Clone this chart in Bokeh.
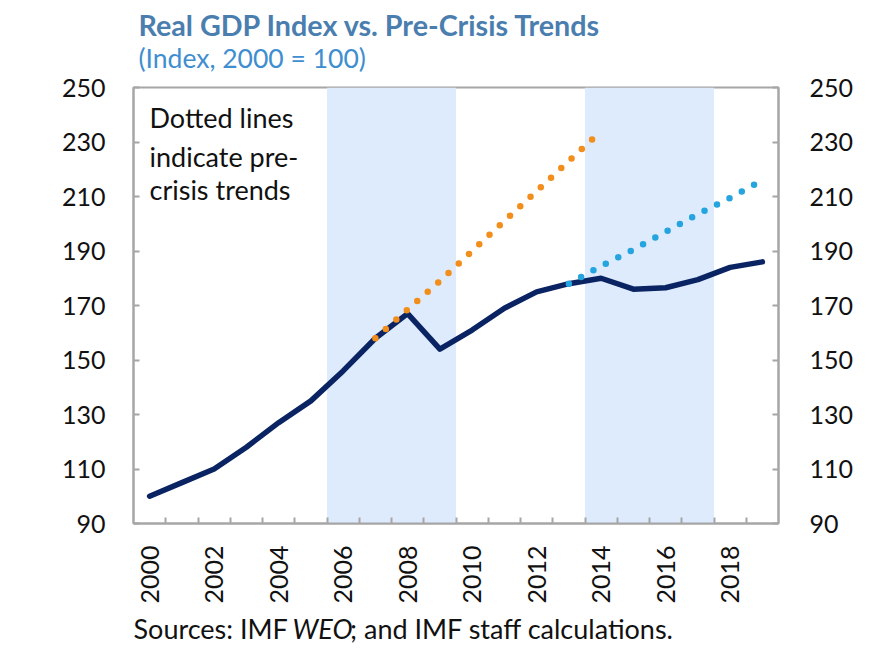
import math
from bokeh.plotting import figure
from bokeh.models import LinearAxis, FixedTicker, Range1d, BoxAnnotation, Label
from bokeh.layouts import column
from bokeh.embed import file_html
from bokeh.resources import INLINE

# ---- data ----
years = list(range(2000, 2020))
gdp_index = [100, 105, 110, 118, 127, 135, 146, 158, 167, 154,
             161, 169, 175, 178, 180, 176, 176.5, 179.5, 184, 186]

trend1_years = list(range(2007, 2015))
trend1_vals = [158, 168.5, 179, 190, 201, 212, 223, 234]

trend2_years = list(range(2013, 2020))
trend2_vals = [178, 184.5, 190.5, 197, 203.5, 209.5, 216]

shade_start = [2006, 2014]
shade_end = [2009, 2017]

y_ticks = [90, 110, 130, 150, 170, 190, 210, 230, 250]
x_label_years = list(range(2000, 2020, 2))

title_text = "Real GDP Index vs. Pre-Crisis Trends"
subtitle_text = "(Index, 2000 = 100)"
note_lines = ["Dotted lines", "indicate pre-", "crisis trends"]
source_parts = ["Sources: IMF ", "WEO", "; and IMF staff calculations."]

# ---- style ----
FONT = "Lato"
GRAY = "#A6A6A6"
NAVY = "#0A2463"
ORANGE = "#F28E1C"
LBLUE = "#25A4E0"
SHADE = "#DDEBFC"
TXT = "#111111"

W = 880
HEAD_H = 72
BL, BT, FW, FH, BB = 133, 15, 645, 436, 88
BR = W - BL - FW
MAIN_H = BT + FH + BB
FOOT_H = 44


def text_fig(h):
    f = figure(width=W, height=h, output_backend="svg", toolbar_location=None,
               x_range=Range1d(0, 1), y_range=Range1d(0, 1),
               x_axis_location=None, y_axis_location=None,
               min_border=0, min_border_left=0, min_border_right=0,
               min_border_top=0, min_border_bottom=0)
    f.xgrid.visible = False
    f.ygrid.visible = False
    f.outline_line_color = None
    return f


def lab(fig, text, sx, sy, size, color=TXT, style="normal"):
    fig.add_layout(Label(x=sx, y=sy, x_units="screen", y_units="screen",
                         text=text, text_font=FONT, text_font_size=size,
                         text_color=color, text_font_style=style,
                         text_baseline="alphabetic", text_align="left"))


# ---- header ----
head = text_fig(HEAD_H)
lab(head, title_text, 5, 48, "28.7px", "#4A7EAF", "bold")
lab(head, subtitle_text, 5, 15, "26.5px", "#3F8ECF")

# ---- main chart ----
p = figure(width=W, height=MAIN_H, output_backend="svg", toolbar_location=None,
           x_range=Range1d(years[0] - 0.5, years[-1] + 0.5),
           y_range=Range1d(y_ticks[0], y_ticks[-1]),
           min_border_left=BL, min_border_right=BR,
           min_border_top=BT, min_border_bottom=BB,
           y_axis_location=None, x_axis_location=None)
p.xgrid.visible = False
p.ygrid.visible = False
p.outline_line_color = GRAY
p.outline_line_width = 2

for s, e in zip(shade_start, shade_end):
    p.add_layout(BoxAnnotation(left=s - 0.5, right=e + 0.5, fill_color=SHADE,
                               fill_alpha=1.0, line_color=None, level="underlay"))


def style_axis(ax, standoff):
    ax.axis_line_color = GRAY
    ax.axis_line_width = 2
    ax.major_tick_line_color = GRAY
    ax.major_tick_line_width = 2
    ax.major_tick_in = 6
    ax.major_tick_out = 0
    ax.minor_tick_line_color = GRAY
    ax.minor_tick_line_width = 2
    ax.minor_tick_in = 6
    ax.minor_tick_out = 0
    ax.major_label_text_font = FONT
    ax.major_label_text_font_size = "25px"
    ax.major_label_text_color = TXT
    ax.major_label_standoff = standoff


left = LinearAxis(ticker=FixedTicker(ticks=y_ticks))
style_axis(left, 28)
p.add_layout(left, "left")

right = LinearAxis(ticker=FixedTicker(ticks=y_ticks))
style_axis(right, 31)
p.add_layout(right, "right")

xb = LinearAxis(ticker=FixedTicker(ticks=x_label_years,
                                   minor_ticks=[y + 0.5 for y in years[:-1]]))
style_axis(xb, 22)
xb.major_tick_line_color = None
xb.major_label_orientation = math.pi / 2
p.add_layout(xb, "below")

p.line(years, gdp_index, line_color=NAVY, line_width=5.5,
       line_join="round", line_cap="round")
p.line(trend1_years, trend1_vals, line_color=ORANGE, line_width=6.5,
       line_dash="0 14", line_cap="round")
p.line(trend2_years, trend2_vals, line_color=LBLUE, line_width=6.5,
       line_dash="0 14", line_cap="round")

for t, sy in zip(note_lines, [406, 367, 334]):
    lab(p, t, 16, sy, "27px")

# ---- footer ----
foot = text_fig(FOOT_H)
fy = 27.5
lab(foot, source_parts[0], 0, fy, "27px")
lab(foot, source_parts[1], 159, fy, "27px", style="italic")
lab(foot, source_parts[2], 216.5, fy, "27px")

layout = column(head, p, foot, spacing=0)
open("out.html", "w").write(file_html(layout, INLINE))
